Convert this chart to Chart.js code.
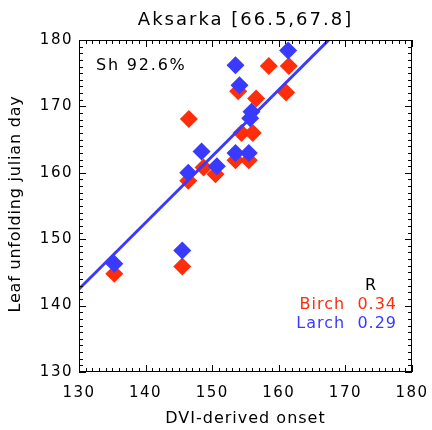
<!DOCTYPE html>
<html lang="en">
<head>
    <meta charset="UTF-8">
    <title>Aksarka onset scatter</title>
    <script src="https://cdn.jsdelivr.net/npm/chart.js"></script>
    <style>
        html, body { margin: 0; padding: 0; background: #fff; }
        #wrap { width: 432px; height: 430px; }
    </style>
</head>
<body>
    <div id="wrap"><canvas id="chart" width="432" height="430"></canvas></div>

    <script>
        // Birch (red) and Larch (blue): DVI-derived onset vs leaf unfolding day
        const birchX = [135.3, 145.5, 146.4, 146.5, 148.7, 150.5, 153.5, 153.9, 154.4, 155.5, 156.1, 156.6, 158.5, 161.1, 161.5];
        const birchY = [144.8, 145.9, 158.8, 168.1, 160.8, 159.8, 161.9, 172.3, 166.0, 161.9, 166.0, 171.2, 176.1, 172.1, 176.1];
        const larchX = [135.3, 145.5, 146.4, 148.4, 150.7, 153.5, 153.5, 154.1, 155.5, 155.7, 155.9, 161.4];
        const larchY = [146.3, 148.3, 160.0, 163.2, 161.0, 163.0, 176.2, 173.2, 163.0, 168.2, 169.2, 178.4];

        // regression line end points
        const fitX = [130, 167.5];
        const fitY = [142.5, 180];

        const xTickLabels = [130, 140, 150, 160, 170, 180];
        const yTickLabels = [130, 140, 150, 160, 170, 180];

        const RED = '#ff2d0a';
        const BLUE = '#3a3aff';

        function toPoints(xs, ys) {
            return xs.map((x, i) => ({ x: x, y: ys[i] }));
        }

        function text(ctx, str, x, y, font, color, align, spacing) {
            ctx.save();
            ctx.font = font;
            ctx.fillStyle = color;
            ctx.textAlign = align || 'center';
            ctx.textBaseline = 'middle';
            ctx.letterSpacing = (spacing || 0) + 'px';
            ctx.fillText(str, x, y);
            ctx.restore();
        }

        const idlAxes = {
            id: 'idlAxes',
            afterDraw(chart) {
                const ctx = chart.ctx;
                const a = chart.chartArea;
                const xs = chart.scales.x, ys = chart.scales.y;
                const F = '"DejaVu Sans", sans-serif';

                ctx.save();
                ctx.strokeStyle = '#000';
                ctx.lineWidth = 1;
                ctx.strokeRect(a.left + 0.5, a.top + 0.5, a.right - a.left - 1, a.bottom - a.top - 1);

                // inward ticks on all four sides, minor every 1, major every 10
                ctx.beginPath();
                for (let v = xs.min; v <= xs.max; v++) {
                    const px = Math.round(xs.getPixelForValue(v)) + 0.5;
                    const len = v % 10 === 0 ? 7 : 4;
                    ctx.moveTo(px, a.bottom); ctx.lineTo(px, a.bottom - len);
                    ctx.moveTo(px, a.top); ctx.lineTo(px, a.top + len);
                }
                for (let v = ys.min; v <= ys.max; v++) {
                    const py = Math.round(ys.getPixelForValue(v)) + 0.5;
                    const len = v % 10 === 0 ? 7 : 4;
                    ctx.moveTo(a.left, py); ctx.lineTo(a.left + len, py);
                    ctx.moveTo(a.right, py); ctx.lineTo(a.right - len, py);
                }
                ctx.stroke();
                ctx.restore();

                xTickLabels.forEach(v => {
                    text(ctx, String(v), xs.getPixelForValue(v), a.bottom + 21, '15px ' + F, '#000', 'center', 1.5);
                });
                yTickLabels.forEach(v => {
                    text(ctx, String(v), a.left - 6, ys.getPixelForValue(v), '15px ' + F, '#000', 'right', 1.5);
                });

                const cx = (a.left + a.right) / 2;
                text(ctx, 'Aksarka [66.5,67.8]', cx, 20, '18px ' + F, '#000', 'center', 2);
                text(ctx, 'DVI-derived onset', cx, 419, '16px ' + F, '#000', 'center', 1);

                ctx.save();
                ctx.translate(16, (a.top + a.bottom) / 2 - 2);
                ctx.rotate(-Math.PI / 2);
                text(ctx, 'Leaf unfolding julian day', 0, 0, '16px ' + F, '#000', 'center', 0.8);
                ctx.restore();

                text(ctx, 'Sh 92.6%', a.left + 17, 66, '16px ' + F, '#000', 'left', 1.8);

                text(ctx, 'R', 371, 286, '16px ' + F, '#000', 'center', 1);
                text(ctx, 'Birch  0.34', 397, 305, '16px ' + F, RED, 'right', 1);
                text(ctx, 'Larch  0.29', 397, 324, '16px ' + F, BLUE, 'right', 1);
            }
        };

        new Chart(document.getElementById('chart'), {
            type: 'scatter',
            data: {
                datasets: [{
                    type: 'line',
                    label: 'Fit',
                    data: toPoints(fitX, fitY),
                    borderColor: BLUE,
                    borderWidth: 3,
                    pointRadius: 0,
                    fill: false
                }, {
                    label: 'Larch',
                    data: toPoints(larchX, larchY),
                    pointStyle: 'rectRot',
                    pointRadius: 9,
                    backgroundColor: BLUE,
                    borderColor: BLUE,
                    borderWidth: 0
                }, {
                    label: 'Birch',
                    data: toPoints(birchX, birchY),
                    pointStyle: 'rectRot',
                    pointRadius: 9,
                    backgroundColor: RED,
                    borderColor: RED,
                    borderWidth: 0
                }]
            },
            options: {
                responsive: false,
                animation: false,
                devicePixelRatio: 1,
                layout: { padding: { left: 79, right: 20, top: 40, bottom: 58 } },
                plugins: { legend: { display: false }, tooltip: { enabled: false } },
                scales: {
                    x: { type: 'linear', min: 130, max: 180, display: false },
                    y: { type: 'linear', min: 130, max: 180, display: false }
                }
            },
            plugins: [idlAxes]
        });
    </script>
</body>
</html>
